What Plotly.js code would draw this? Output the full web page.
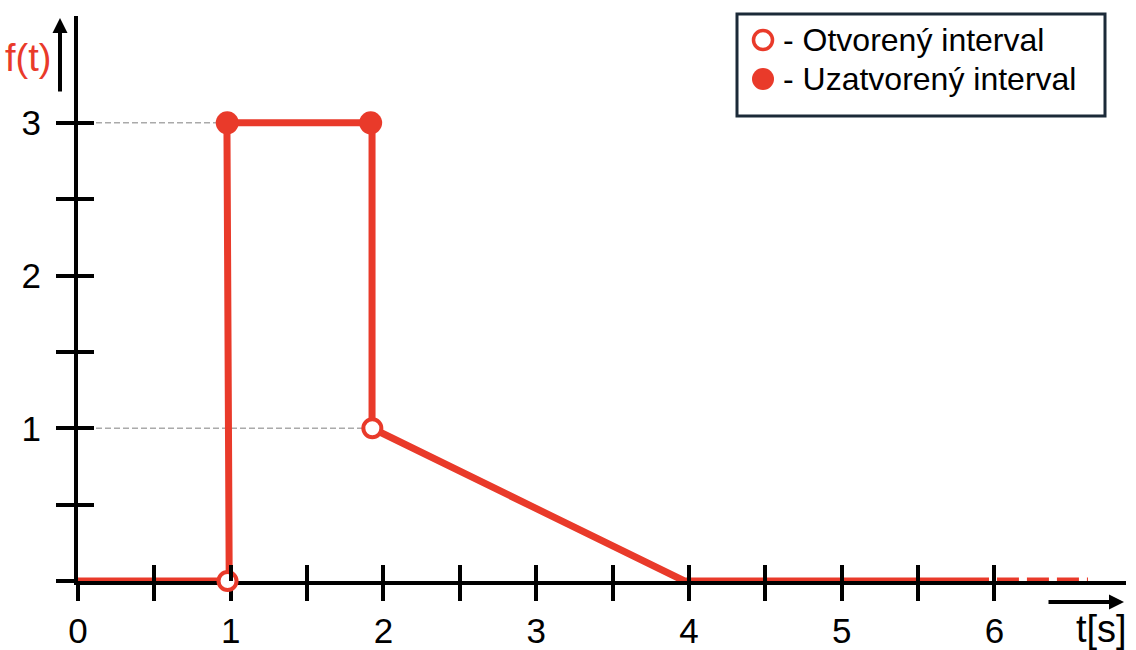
<!DOCTYPE html>
<html>
<head>
<meta charset="utf-8">
<script src="https://cdn.plot.ly/plotly-3.0.1.min.js"></script>
<style>html,body{margin:0;padding:0;background:#fff;}#chart{width:1136px;height:650px;}</style>
</head>
<body>
<div id="chart"></div>
<script>
// ---- data ----
const lineX = [0, 0.99, 0.975, 1.925, 1.925, 3.97, 5.964];
const lineY = [0, 0, 3, 3, 1, 0, 0];
const tailX = [6.016, 6.612];
const tailY = [0, 0];
const closedX = [0.977, 1.916];
const closedY = [3, 3];
const openX = [0.979, 1.927];
const openY = [0, 1];
const guide3X = [0, 0.977];
const guide3Y = [3, 3];
const guide1X = [0, 1.927];
const guide1Y = [1, 1];
const xTickVals = [0, 0.5, 1, 1.5, 2, 2.5, 3, 3.5, 4, 4.5, 5, 5.5, 6];
const xTickText = ['0', '', '1', '', '2', '', '3', '', '4', '', '5', '', '6'];
const yTickVals = [0, 0.5, 1, 1.5, 2, 2.5, 3];
const yTickText = ['', '', '1', '', '2', '', '3'];
const legendLabels = ['- Otvorený interval', '- Uzatvorený interval'];
const yLabel = 'f(t)';
const xLabel = 't[s]';

const RED = '#E93A2A';
const FONT = 'Liberation Sans, Arial, sans-serif';
const XR = [0, 6.861];
const YR = [0, 3.699];

const traces = [
  {x: guide3X, y: guide3Y, mode: 'lines', line: {color: '#AAAAAA', width: 1.6, dash: '6px,3px'}, hoverinfo: 'skip', showlegend: false},
  {x: guide1X, y: guide1Y, mode: 'lines', line: {color: '#AAAAAA', width: 1.6, dash: '6px,3px'}, hoverinfo: 'skip', showlegend: false},
  {x: lineX, y: lineY, mode: 'lines', line: {color: RED, width: 7}, showlegend: false},
  {x: tailX, y: tailY, mode: 'lines', line: {color: RED, width: 7, dash: '22px,8px'}, showlegend: false},
  {x: closedX, y: closedY, mode: 'markers', marker: {symbol: 'circle', size: 23, color: RED, line: {width: 0}}, cliponaxis: false, showlegend: false},
  {x: openX, y: openY, mode: 'markers', marker: {symbol: 'circle', size: 18, color: '#FFFFFF', line: {color: RED, width: 4}}, cliponaxis: false, showlegend: false},
  {x: [], y: [], xaxis: 'x2', yaxis: 'y2', mode: 'markers', showlegend: false}
];

// paper helpers (plot area: left 78, bottom 581, width 1048, height 565)
const px = v => (v - 78) / 1048;
const py = v => (581 - v) / 565;

const axisCommon = {
  showgrid: false, zeroline: false, fixedrange: true,
  tickcolor: '#000', tickwidth: 4,
  tickfont: {family: FONT, size: 35, color: '#000'}
};

const layout = {
  width: 1136, height: 650,
  margin: {l: 78, r: 10, t: 16, b: 69, pad: 0},
  paper_bgcolor: '#FFFFFF', plot_bgcolor: '#FFFFFF',
  showlegend: false,
  xaxis: Object.assign({}, axisCommon, {
    range: XR, tickmode: 'array', tickvals: xTickVals, ticktext: xTickText,
    ticks: 'outside', ticklen: 16, showline: true, linecolor: '#000', linewidth: 4,
    layer: 'below traces', ticklabelstandoff: 0
  }),
  yaxis: Object.assign({}, axisCommon, {
    range: YR, tickmode: 'array', tickvals: yTickVals, ticktext: yTickText,
    ticks: 'outside', ticklen: 18, showline: true, linecolor: '#000', linewidth: 4,
    layer: 'below traces', ticklabelstandoff: 8
  }),
  xaxis2: Object.assign({}, axisCommon, {
    range: XR, overlaying: 'x', anchor: 'y2', side: 'bottom',
    tickmode: 'array', tickvals: xTickVals, ticks: 'inside', ticklen: 16,
    showticklabels: false, showline: false, layer: 'above traces'
  }),
  yaxis2: Object.assign({}, axisCommon, {
    range: YR, overlaying: 'y', anchor: 'x2', side: 'left',
    tickmode: 'array', tickvals: yTickVals, ticks: 'inside', ticklen: 16,
    showticklabels: false, showline: false, layer: 'above traces'
  }),
  shapes: [
    {type: 'rect', xref: 'paper', yref: 'paper', x0: px(737), x1: px(1105), y0: py(116), y1: py(14),
     line: {color: '#1B2A38', width: 3}, fillcolor: '#FFFFFF', layer: 'above'},
    {type: 'circle', xref: 'paper', yref: 'paper', xsizemode: 'pixel', ysizemode: 'pixel',
     xanchor: px(763), yanchor: py(40), x0: -9.5, x1: 9.5, y0: -9.5, y1: 9.5,
     line: {color: RED, width: 3.5}, fillcolor: '#FFFFFF', layer: 'above'},
    {type: 'circle', xref: 'paper', yref: 'paper', xsizemode: 'pixel', ysizemode: 'pixel',
     xanchor: px(763), yanchor: py(79), x0: -11, x1: 11, y0: -11, y1: 11,
     line: {color: RED, width: 0}, fillcolor: RED, layer: 'above'}
  ],
  annotations: [
    {xref: 'paper', yref: 'paper', x: px(781), y: py(40), xanchor: 'left', yanchor: 'middle',
     text: legendLabels[0], showarrow: false, font: {family: FONT, size: 32, color: '#000'}},
    {xref: 'paper', yref: 'paper', x: px(781), y: py(79), xanchor: 'left', yanchor: 'middle',
     text: legendLabels[1], showarrow: false, font: {family: FONT, size: 32, color: '#000'}},
    {xref: 'paper', yref: 'paper', x: px(28), y: py(58), xanchor: 'center', yanchor: 'middle',
     text: yLabel, showarrow: false, font: {family: FONT, size: 38, color: RED}},
    {xref: 'paper', yref: 'paper', x: px(1101), y: py(629), xanchor: 'center', yanchor: 'middle',
     text: xLabel, showarrow: false, font: {family: FONT, size: 38, color: '#000'}},
    {xref: 'paper', yref: 'paper', x: px(60), y: py(18), text: '', showarrow: true,
     ax: 0, ay: 75, arrowhead: 2, arrowsize: 0.75, arrowwidth: 4, arrowcolor: '#000', standoff: 0},
    {xref: 'paper', yref: 'paper', x: px(1124), y: py(602), text: '', showarrow: true,
     ax: -77, ay: 0, arrowhead: 2, arrowsize: 0.75, arrowwidth: 4, arrowcolor: '#000', standoff: 0}
  ]
};

Plotly.newPlot('chart', traces, layout, {staticPlot: true, displayModeBar: false});
</script>
</body>
</html>
